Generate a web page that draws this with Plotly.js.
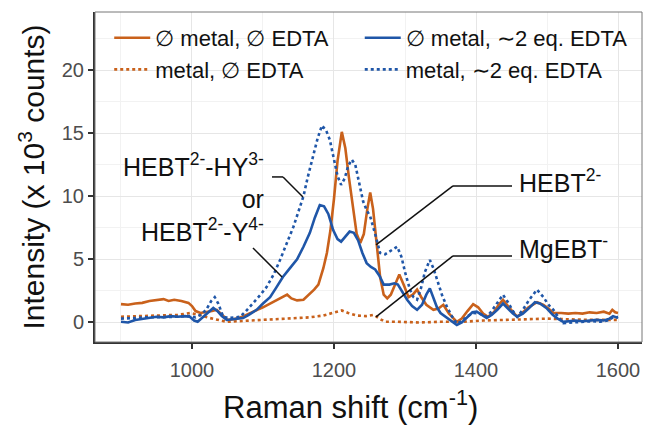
<!DOCTYPE html>
<html>
<head>
<meta charset="utf-8">
<script src="https://cdn.plot.ly/plotly-3.0.1.min.js"></script>
<style>html,body{margin:0;padding:0;background:#fff;}#chart{width:645px;height:425px;}</style>
</head>
<body>
<div id="chart"></div>
<script>
// ∅ metal, ∅ EDTA (orange solid)
var osX = [900,910,920,930,940,950,960,967,975,985,995,1000,1005,1012,1020,1028,1035,1042,1050,1058,1066,1075,1085,1092,1100,1110,1120,1128,1134,1140,1148,1157,1165,1172,1178,1185,1190,1195,1200,1205,1211,1216,1221,1226,1232,1237,1242,1247,1251,1255,1260,1265,1270,1275,1280,1286,1292,1298,1305,1311,1317,1323,1330,1340,1347,1354,1362,1373,1380,1388,1396,1403,1410,1417,1425,1432,1438,1445,1452,1458,1466,1474,1486,1495,1502,1509,1520,1530,1540,1550,1560,1570,1580,1588,1592,1596,1600];
var osY = [1.45,1.4,1.5,1.55,1.7,1.75,1.85,1.7,1.8,1.7,1.55,1.3,0.9,0.75,0.8,0.9,1.0,0.6,0.2,0.25,0.35,0.55,0.85,1.0,1.2,1.5,1.8,2.0,2.2,1.9,1.75,1.8,2.2,2.6,3.0,4.3,5.5,7.3,9.8,12.8,15.1,13.8,11.5,9.3,7.0,6.3,7.0,9.0,10.3,9.0,6.0,3.6,2.2,1.9,2.2,3.0,3.8,3.0,2.0,2.2,2.6,2.0,1.4,1.0,1.1,1.4,0.7,0.05,0.3,0.9,1.45,1.2,0.7,0.45,0.8,1.4,1.8,1.3,0.8,0.45,0.8,1.2,1.6,1.4,1.1,0.75,0.75,0.7,0.75,0.7,0.8,0.75,0.85,0.7,1.0,0.8,0.75];

// ∅ metal, ~2 eq. EDTA (blue solid)
var bsX = [900,910,920,930,940,950,960,970,980,990,997,1003,1008,1015,1022,1030,1036,1042,1049,1058,1066,1072,1080,1091,1100,1110,1118,1128,1138,1148,1157,1166,1173,1180,1186,1192,1199,1205,1210,1216,1222,1228,1234,1240,1246,1252,1258,1264,1270,1278,1285,1290,1296,1303,1310,1317,1324,1330,1335,1340,1345,1350,1358,1366,1373,1380,1388,1395,1401,1408,1415,1422,1430,1438,1445,1452,1458,1466,1474,1483,1490,1500,1508,1515,1523,1530,1540,1550,1560,1570,1580,1588,1593,1598,1600];
var bsY = [0.05,0.0,0.2,0.3,0.35,0.45,0.4,0.5,0.45,0.5,0.45,0.15,0.05,0.4,0.7,1.15,0.9,0.5,0.2,0.25,0.3,0.35,0.6,1.0,1.5,2.0,2.7,3.6,4.3,5.0,6.0,7.1,8.3,9.3,9.2,8.6,7.3,6.6,6.4,6.8,7.2,7.1,6.5,5.5,4.7,4.4,4.2,3.7,3.0,3.0,3.1,3.0,2.4,1.8,1.3,1.0,1.4,2.2,2.7,2.0,1.2,0.75,0.4,0.1,-0.2,0.0,0.4,0.8,0.85,0.6,0.35,0.6,1.0,1.5,1.1,0.7,0.45,0.7,1.1,1.6,1.5,1.1,0.6,0.3,0.05,0.1,0.15,0.1,0.15,0.2,0.15,0.3,0.5,0.4,0.45];

// metal, ∅ EDTA (orange dotted)
var odX = [900,920,940,960,980,997,1010,1025,1040,1049,1065,1085,1105,1125,1145,1165,1185,1200,1211,1220,1232,1245,1256,1264,1272,1290,1320,1350,1380,1410,1440,1470,1500,1530,1560,1600];
var odY = [0.45,0.5,0.5,0.55,0.6,0.75,0.6,0.35,0.15,0.05,0.1,0.15,0.2,0.25,0.3,0.4,0.55,0.75,0.95,0.75,0.55,0.5,0.6,0.3,0.05,0.05,0.0,0.05,0.05,0.15,0.2,0.25,0.3,0.25,0.2,0.2];

// metal, ~2 eq. EDTA (blue dotted)
var bdX = [900,910,920,930,940,950,960,970,980,990,997,1005,1012,1020,1027,1032,1037,1044,1052,1060,1068,1076,1086,1095,1105,1115,1124,1133,1143,1150,1157,1163,1170,1177,1183,1189,1194,1200,1205,1210,1215,1220,1225,1230,1236,1241,1246,1251,1258,1265,1272,1280,1289,1295,1300,1307,1312,1317,1322,1328,1335,1340,1345,1352,1359,1366,1373,1380,1388,1396,1405,1415,1422,1430,1438,1445,1452,1458,1466,1475,1486,1495,1502,1509,1516,1523,1535,1545,1555,1565,1575,1585,1593,1600];
var bdY = [0.3,0.3,0.35,0.4,0.4,0.45,0.45,0.4,0.45,0.5,0.5,0.4,0.6,1.0,1.7,2.0,1.5,0.45,0.35,0.4,0.45,0.9,1.5,2.1,2.8,3.8,4.95,6.2,7.6,8.8,10.0,11.5,13.1,14.6,15.6,15.2,14.5,13.0,11.6,10.9,11.4,12.4,12.9,12.5,11.0,9.6,8.9,8.4,7.0,5.5,5.4,5.7,6.0,5.2,4.0,2.6,2.0,1.8,2.6,4.0,4.95,4.3,3.4,2.2,1.25,0.5,-0.1,0.1,0.5,0.75,0.7,0.45,0.9,1.6,2.2,1.6,0.9,0.45,1.0,1.8,2.6,2.0,1.4,1.0,0.4,-0.05,0.0,0.05,0.05,0.1,0.05,0.15,0.4,0.4];

var seriesNames = ["\u2205 metal, \u2205 EDTA", "metal, \u2205 EDTA", "\u2205 metal, \u223C2 eq. EDTA", "metal, \u223C2 eq. EDTA"];
var xTickVals = [1000, 1200, 1400, 1600];
var yTickVals = [0, 5, 10, 15, 20];

var ORANGE = "#c9611b", BLUE = "#1f56a8";
var FONT = "Liberation Sans, Arial, sans-serif";

var traces = [
  {x: osX, y: osY, name: seriesNames[0], mode: "lines", line: {color: ORANGE, width: 2.6}, legend: "legend"},
  {x: odX, y: odY, name: seriesNames[1], mode: "lines", line: {color: ORANGE, width: 2.6, dash: "dot"}, legend: "legend"},
  {x: bsX, y: bsY, name: seriesNames[2], mode: "lines", line: {color: BLUE, width: 2.6}, legend: "legend2"},
  {x: bdX, y: bdY, name: seriesNames[3], mode: "lines", line: {color: BLUE, width: 2.6, dash: "dot"}, legend: "legend2"}
];

var legendBase = {orientation: "v", yanchor: "top", xanchor: "left", y: 0.985,
                  bgcolor: "rgba(0,0,0,0)", font: {size: 22, family: FONT, color: "#111"},
                  itemwidth: 36, tracegroupgap: 0, traceorder: "normal"};

var layout = {
  width: 645, height: 425,
  margin: {l: 95, r: 3, t: 12, b: 83},
  paper_bgcolor: "#fff", plot_bgcolor: "#fff",
  font: {family: FONT, color: "#111"},
  showlegend: true,
  legend: Object.assign({}, legendBase, {x: 0.026}),
  legend2: Object.assign({}, legendBase, {x: 0.484}),
  xaxis: {range: [863.4, 1633.8], tickvals: xTickVals, ticks: "outside", ticklen: 5, tickwidth: 1.5, tickcolor: "#333",
          showline: true, linecolor: "#333", linewidth: 2, zeroline: false,
          showgrid: true, gridcolor: "#e6e6e6", gridwidth: 1.2,
          minor: {dtick: 100, tick0: 0, showgrid: true, gridcolor: "#f2f2f2", gridwidth: 1, ticks: ""},
          tickfont: {size: 20, color: "#4d4d4d", family: FONT}, ticklabelstandoff: 4,
          title: {text: ""}},
  yaxis: {range: [-1.55, 24.6], tickvals: yTickVals, ticks: "outside", ticklen: 5, tickwidth: 1.5, tickcolor: "#333",
          showline: true, linecolor: "#333", linewidth: 2, zeroline: false,
          showgrid: true, gridcolor: "#e6e6e6", gridwidth: 1.2,
          minor: {dtick: 2.5, tick0: 0, showgrid: true, gridcolor: "#f2f2f2", gridwidth: 1, ticks: ""},
          tickfont: {size: 20, color: "#4d4d4d", family: FONT},
          title: {text: "Intensity (x 10<sup>3</sup> counts)", font: {size: 30, color: "#111", family: FONT}, standoff: 8}},
  shapes: [
    {type: "rect", xref: "paper", yref: "paper", x0: 0, x1: 1, y0: 0, y1: 1, line: {color: "#777", width: 1}, layer: "above"},
    {type: "line", xref: "x", yref: "y", x0: 1112.7, y0: 11.53, x1: 1128.2, y1: 11.53, line: {color: "#111", width: 1.5}},
    {type: "line", xref: "x", yref: "y", x0: 1128.2, y0: 11.53, x1: 1156.3, y1: 9.94, line: {color: "#111", width: 1.5}},
    {type: "line", xref: "x", yref: "y", x0: 1085.9, y0: 5.9, x1: 1126.8, y1: 3.6, line: {color: "#111", width: 1.5}},
    {type: "line", xref: "x", yref: "y", x0: 1367.6, y0: 10.82, x1: 1450.7, y1: 10.82, line: {color: "#111", width: 1.5}},
    {type: "line", xref: "x", yref: "y", x0: 1367.6, y0: 10.82, x1: 1259.2, y1: 6.14, line: {color: "#111", width: 1.5}},
    {type: "line", xref: "x", yref: "y", x0: 1367.6, y0: 5.27, x1: 1450.7, y1: 5.27, line: {color: "#111", width: 1.5}},
    {type: "line", xref: "x", yref: "y", x0: 1367.6, y0: 5.27, x1: 1259.2, y1: 0.44, line: {color: "#111", width: 1.5}}
  ],
  annotations: [
    {x: 0.468, y: -0.19, xref: "paper", yref: "paper", xanchor: "center", yanchor: "middle", showarrow: false,
     text: "Raman shift (cm<sup>-1</sup>)", font: {size: 31, color: "#111", family: FONT}},
    {x: 1104, y: 9.9, xref: "x", yref: "y", xanchor: "right", yanchor: "middle", align: "right", showarrow: false,
     text: "HEBT<sup>2-</sup>-HY<sup>3-</sup><br>or<br>HEBT<sup>2-</sup>-Y<sup>4-</sup>", font: {size: 25, color: "#111", family: FONT}},
    {x: 1457.7, y: 11.2, xref: "x", yref: "y", xanchor: "left", yanchor: "middle", showarrow: false,
     text: "HEBT<sup>2-</sup>", font: {size: 25, color: "#111", family: FONT}},
    {x: 1457.7, y: 6.0, xref: "x", yref: "y", xanchor: "left", yanchor: "middle", showarrow: false,
     text: "MgEBT<sup>-</sup>", font: {size: 25, color: "#111", family: FONT}}
  ]
};

Plotly.newPlot("chart", traces, layout, {displayModeBar: false, responsive: false});
</script>
</body>
</html>
